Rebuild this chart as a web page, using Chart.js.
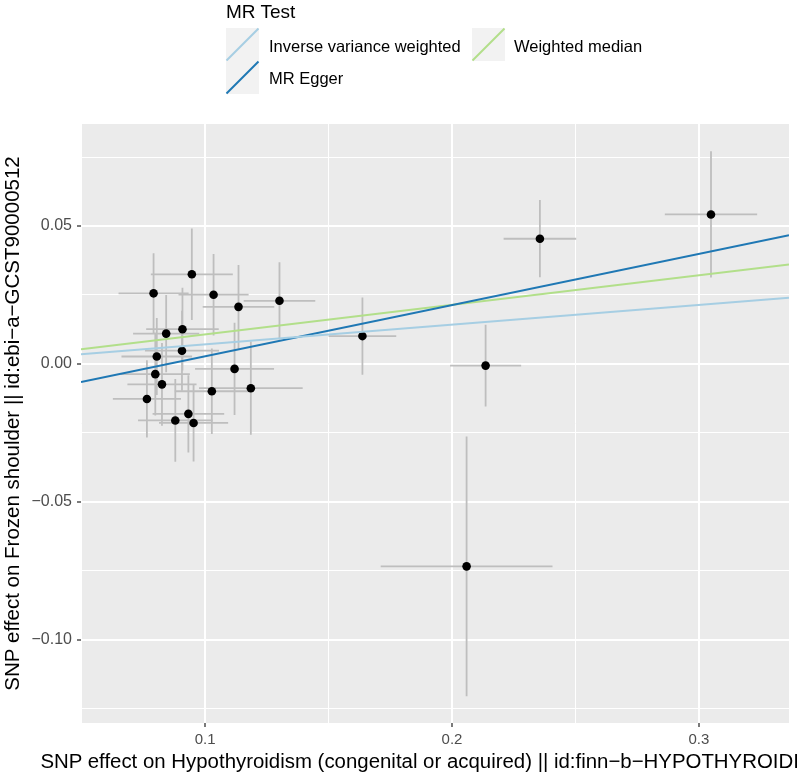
<!DOCTYPE html>
<html>
<head>
<meta charset="utf-8">
<script src="https://cdn.jsdelivr.net/npm/chart.js@4.4.1/dist/chart.umd.min.js"></script>
<style>
  html, body { margin: 0; padding: 0; background: #ffffff; }
  #wrap { position: relative; width: 800px; height: 778px; overflow: hidden; font-family: 'Liberation Sans', Arial, sans-serif; }
  #c { position: absolute; left: 0; top: 0; }
  .lg { position: absolute; line-height: 1; color: #000; white-space: nowrap; }
  #lgsvg { position: absolute; left: 0; top: 0; }
  #xtitle { position: absolute; left: 435px; top: 751px; transform: translateX(-50%); line-height: 1; color: #000; white-space: nowrap; font-size: 20px; }
</style>
</head>
<body>
<div id="wrap">
  <canvas id="c" width="800" height="778"></canvas>
  <svg id="lgsvg" width="800" height="100"></svg>
  <span class="lg" style="left:226px; top:2px; font-size:19px;">MR Test</span>
  <span class="lg" style="left:269px; top:38px; font-size:16.5px;">Inverse variance weighted</span>
  <span class="lg" style="left:269px; top:70px; font-size:16.5px;">MR Egger</span>
  <span class="lg" style="left:514px; top:38px; font-size:16.5px;">Weighted median</span>
  <span id="xtitle"></span>
</div>
<script>
// ---- data ----
const exposureBeta = [0.0946, 0.0791, 0.1034, 0.1135, 0.1301, 0.0842, 0.0908, 0.0906, 0.0804, 0.0798, 0.0825, 0.0764, 0.1119, 0.1027, 0.1185, 0.0932, 0.0879, 0.0953, 0.1637, 0.2356, 0.2136, 0.3049, 0.2059];
const outcomeBeta  = [0.0325, 0.0256, 0.0251, 0.0207, 0.0229, 0.0110, 0.0126, 0.0048, 0.0027, -0.0037, -0.0074, -0.0127, -0.0018, -0.0099, -0.0088, -0.0181, -0.0205, -0.0214, 0.0101, 0.0454, -0.0006, 0.0542, -0.0734];
const exposureSE   = [0.0166, 0.0142, 0.0142, 0.0145, 0.0145, 0.0134, 0.0147, 0.0150, 0.0143, 0.0140, 0.0140, 0.0138, 0.0160, 0.0150, 0.0210, 0.0145, 0.0151, 0.0140, 0.0137, 0.0147, 0.0144, 0.0187, 0.0348];
const outcomeSE    = [0.0166, 0.0145, 0.0148, 0.0152, 0.0140, 0.0140, 0.0150, 0.0145, 0.0140, 0.0150, 0.0150, 0.0140, 0.0167, 0.0155, 0.0169, 0.0140, 0.0150, 0.0140, 0.0140, 0.0140, 0.0148, 0.0229, 0.0471];

const methods    = ['Inverse variance weighted', 'MR Egger', 'Weighted median'];
const slopes     = [0.0712, 0.1857, 0.1071];
const intercepts = [0, -0.0158, 0];
const methodColors = ['#A6CEE3', '#1F78B4', '#B2DF8A'];

const xTickValues = [0.05, 0.1, 0.15, 0.2, 0.25, 0.3];
const xTickLabels = ['', '0.1', '', '0.2', '', '0.3'];
const yTickValues = [-0.125, -0.1, -0.075, -0.05, -0.025, 0, 0.025, 0.05, 0.075];
const yTickLabels = ['', '\u22120.10', '', '\u22120.05', '', '0.00', '', '0.05', ''];

const xLimits = [0.0497, 0.3365];
const yLimits = [-0.1302, 0.0870];

const xTitle = 'SNP effect on Hypothyroidism (congenital or acquired) || id:finn\u2212b\u2212HYPOTHYROIDISM';
const yTitle = 'SNP effect on Frozen shoulder || id:ebi\u2212a\u2212GCST90000512';

// ---- x axis title (html text, centred on the panel, clipped by the page edge) ----
(function () {
  const el = document.getElementById('xtitle');
  el.textContent = xTitle;
  const m = document.createElement('canvas').getContext('2d');
  m.font = "20px 'Liberation Sans', Arial, sans-serif";
  const w = m.measureText(xTitle).width;
  el.style.fontSize = (20 * 790 / w).toFixed(2) + 'px';
})();

// ---- legend keys (svg) ----
(function () {
  const svg = document.getElementById('lgsvg');
  const keys = [[226, 28], [226, 61], [472, 28]];
  let s = '';
  keys.forEach((k, i) => {
    const [x, y] = k;
    s += `<rect x="${x}" y="${y}" width="33" height="33" fill="#F2F2F2"/>`;
    s += `<line x1="${x + 0.5}" y1="${y + 32.5}" x2="${x + 32.5}" y2="${y + 0.5}" stroke="${methodColors[i]}" stroke-width="2"/>`;
  });
  svg.innerHTML = s;
})();

// ---- datasets ----
const pts = exposureBeta.map((x, i) => ({ x: x, y: outcomeBeta[i] }));
const hBars = [];
const vBars = [];
exposureBeta.forEach((x, i) => {
  const y = outcomeBeta[i];
  hBars.push({ x: x - exposureSE[i], y: y }, { x: x + exposureSE[i], y: y }, { x: x, y: null });
  vBars.push({ x: x, y: y - outcomeSE[i] }, { x: x, y: y + outcomeSE[i] }, { x: x, y: null });
});

const lineSets = methods.map((m, i) => ({
  type: 'line',
  label: m,
  data: [
    { x: xLimits[0], y: intercepts[i] + slopes[i] * xLimits[0] },
    { x: xLimits[1], y: intercepts[i] + slopes[i] * xLimits[1] }
  ],
  borderColor: methodColors[i],
  borderWidth: 2,
  pointRadius: 0,
  fill: false,
  order: 0
}));

const isMajor = (labels, idx) => !!labels[idx];

const bgPlugin = {
  id: 'panelBg',
  beforeDraw(chart) {
    const { ctx, chartArea: a } = chart;
    ctx.save();
    ctx.fillStyle = '#EBEBEB';
    ctx.fillRect(a.left, a.top, a.right - a.left, a.bottom - a.top);
    ctx.restore();
  }
};

new Chart(document.getElementById('c'), {
  type: 'scatter',
  data: {
    datasets: [
      ...lineSets,
      {
        type: 'scatter',
        label: 'SNPs',
        data: pts,
        backgroundColor: '#000000',
        borderColor: '#000000',
        pointRadius: 4.3,
        pointBorderWidth: 0,
        order: 1
      },
      {
        type: 'line',
        label: 'se exposure',
        data: hBars,
        borderColor: '#BEBEBE',
        borderWidth: 1.8,
        pointRadius: 0,
        spanGaps: false,
        fill: false,
        order: 2
      },
      {
        type: 'line',
        label: 'se outcome',
        data: vBars,
        borderColor: '#BEBEBE',
        borderWidth: 1.8,
        pointRadius: 0,
        spanGaps: false,
        fill: false,
        order: 3
      }
    ]
  },
  options: {
    responsive: false,
    animation: false,
    layout: { padding: { top: 124, right: 11, left: 0, bottom: 0 } },
    plugins: {
      legend: { display: false },
      tooltip: { enabled: false }
    },
    scales: {
      x: {
        type: 'linear',
        min: xLimits[0],
        max: xLimits[1],
        afterBuildTicks: (scale) => { scale.ticks = xTickValues.map(v => ({ value: v })); },
        afterFit: (scale) => { scale.height = 55; },
        border: { display: false },
        grid: {
          color: '#FFFFFF',
          lineWidth: (ctx) => isMajor(xTickLabels, ctx.index) ? 2 : 1,
          drawTicks: true,
          tickLength: 4,
          tickWidth: 1.3,
          tickColor: (ctx) => isMajor(xTickLabels, ctx.index) ? '#333333' : 'rgba(0,0,0,0)'
        },
        ticks: {
          autoSkip: false,
          maxRotation: 0,
          padding: 4,
          color: '#4D4D4D',
          font: { family: "'Liberation Sans', Arial, sans-serif", size: 15 },
          callback: (v, i) => xTickLabels[i]
        },
        title: { display: false }
      },
      y: {
        type: 'linear',
        min: yLimits[0],
        max: yLimits[1],
        afterBuildTicks: (scale) => { scale.ticks = yTickValues.map(v => ({ value: v })); },
        afterFit: (scale) => { scale.width = 81; },
        border: { display: false },
        grid: {
          color: '#FFFFFF',
          lineWidth: (ctx) => isMajor(yTickLabels, ctx.index) ? 2 : 1,
          drawTicks: true,
          tickLength: 4,
          tickWidth: 1.3,
          tickColor: (ctx) => isMajor(yTickLabels, ctx.index) ? '#333333' : 'rgba(0,0,0,0)'
        },
        ticks: {
          autoSkip: false,
          padding: 5,
          color: '#4D4D4D',
          font: { family: "'Liberation Sans', Arial, sans-serif", size: 16 },
          callback: (v, i) => yTickLabels[i]
        },
        title: {
          display: true,
          text: yTitle,
          color: '#000000',
          padding: { top: 1, bottom: 0 },
          font: { family: "'Liberation Sans', Arial, sans-serif", size: 20.5 }
        }
      }
    }
  },
  plugins: [bgPlugin]
});
</script>
</body>
</html>
